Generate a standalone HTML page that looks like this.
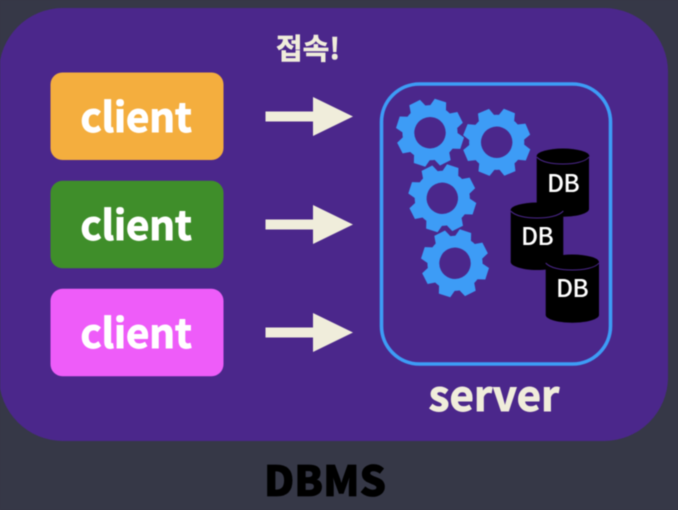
<!DOCTYPE html>
<html><head><meta charset="utf-8"><style>
html,body{margin:0;padding:0;background:#363847;width:678px;height:510px;overflow:hidden}
svg{display:block;filter:blur(.5px)}
text{font-family:"Noto Sans CJK KR","Liberation Sans",sans-serif;font-weight:700;text-anchor:middle;paint-order:stroke}
.c{font-size:40.5px;fill:#fff;stroke:#fff;stroke-width:.9px;letter-spacing:-.3px}
.d{font-size:24.5px;fill:#fff;font-weight:500;letter-spacing:-.7px}
</style></head><body>
<svg width="678" height="510" viewBox="0 0 678 510" xmlns="http://www.w3.org/2000/svg">
<defs>
<polygon id="t" points="25,-8.6 33.8,-6 33.8,6 25,8.6"/>
<g id="gear" fill="#3d9cf6">
<use href="#t"/><use href="#t" transform="rotate(45)"/><use href="#t" transform="rotate(90)"/><use href="#t" transform="rotate(135)"/><use href="#t" transform="rotate(180)"/><use href="#t" transform="rotate(225)"/><use href="#t" transform="rotate(270)"/><use href="#t" transform="rotate(315)"/>
<circle r="21.6" fill="none" stroke="#3d9cf6" stroke-width="11.8"/>
</g>
<path id="arrow" d="M265.5 -5H313V-19.5L353 0L313 19.5V5H265.5Z" fill="#f0eddb"/>
</defs>
<rect width="678" height="510" fill="#363847"/>
<rect x="-1" y="8" width="669" height="433" rx="64" fill="#4b278b"/>
<text x="308" y="59" font-size="29" fill="#f0eddb" stroke="#f0eddb" stroke-width=".6">접속!</text>
<rect x="50.5" y="72.5" width="173" height="87.5" rx="12" fill="#f4ae3e"/>
<rect x="50.5" y="180.8" width="173" height="87.5" rx="12" fill="#3f8e2a"/>
<rect x="50.5" y="288.8" width="173" height="87.5" rx="12" fill="#ee5cf9"/>
<text class="c" x="136" y="132">client</text>
<text class="c" x="136" y="240">client</text>
<text class="c" x="136" y="348">client</text>
<use href="#arrow" y="116.5"/>
<use href="#arrow" y="224.5"/>
<use href="#arrow" y="332.5"/>
<rect x="381.5" y="84" width="229" height="280" rx="38" fill="none" stroke="#3d9cf6" stroke-width="3.6"/>
<use href="#gear" transform="translate(430 132.7) rotate(18)"/>
<use href="#gear" transform="translate(496.7 142.3) rotate(22)"/>
<use href="#gear" transform="translate(442.3 198.3) rotate(18)"/>
<use href="#gear" transform="translate(455 263.3) rotate(18)"/>
<g>
<path d="M536.7 156V209C536.7 213 548 216.7 563 216.7S589 213 589 209V156Z" fill="#000"/>
<ellipse cx="563" cy="156" rx="26.3" ry="7.5" fill="#000"/>
<path d="M536.7 157C541 162 552 164 563 164S585 162 589 157" fill="none" stroke="#4b278b" stroke-width="1"/>
<text class="d" x="563" y="192">DB</text>
</g>
<g>
<path d="M510.7 210V262C510.7 266 522 270 537 270S563.3 266 563.3 262V210Z" fill="#000"/>
<ellipse cx="537" cy="210" rx="26.3" ry="7.5" fill="#000"/>
<path d="M510.7 211C515 216 526 218 537 218S559 216 563.3 211" fill="none" stroke="#4b278b" stroke-width="1"/>
<text class="d" x="537" y="245">DB</text>
</g>
<g>
<path d="M545.7 262V315C545.7 319 557 322.7 572.3 322.7S599 319 599 315V262Z" fill="#000"/>
<ellipse cx="572.3" cy="262" rx="26.6" ry="7.5" fill="#000"/>
<path d="M545.7 263C550 268 561 270 572.3 270S595 268 599 263" fill="none" stroke="#4b278b" stroke-width="1"/>
<text class="d" x="572" y="297">DB</text>
</g>
<text x="494" y="411" font-size="42" fill="#f0eddb" stroke="#f0eddb" stroke-width=".9">server</text>
<text x="325" y="496" font-size="41.5" fill="#000" stroke="#000" stroke-width=".8" style="font-weight:900">DBMS</text>
</svg>
</body></html>
